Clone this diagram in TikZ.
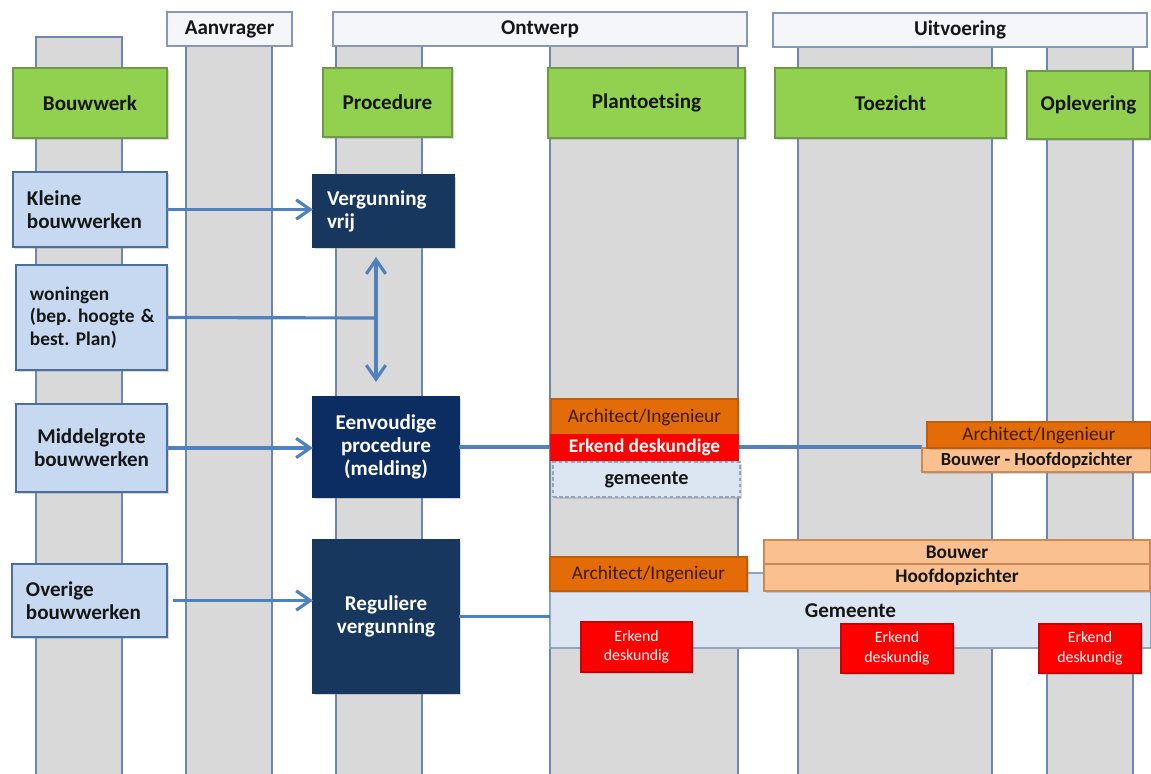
\documentclass[tikz,border=0pt]{standalone}
\usepackage{fontspec}
\setmainfont{Carlito}
\usetikzlibrary{arrows.meta,shadows}
\frenchspacing

\definecolor{lanegray}{HTML}{D9D9D9}
\definecolor{laneline}{HTML}{6F87B0}
\definecolor{headfill}{HTML}{F4F6FA}
\definecolor{headline}{HTML}{8599B6}
\definecolor{phasegreen}{HTML}{92D050}
\definecolor{phaseline}{HTML}{6E9A45}
\definecolor{worklight}{HTML}{C6D9F1}
\definecolor{workline}{HTML}{4A6E9E}
\definecolor{procnavy}{HTML}{17375E}
\definecolor{procdark}{HTML}{0C2D62}
\definecolor{flowblue}{HTML}{4F81BD}
\definecolor{archorange}{HTML}{E36C09}
\definecolor{archtext}{HTML}{3A1A05}
\definecolor{bouwpeach}{HTML}{FAC090}
\definecolor{peachline}{HTML}{C98A5A}
\definecolor{erkendred}{HTML}{FF0000}
\definecolor{gemfill}{HTML}{DCE6F2}
\definecolor{gemline}{HTML}{8FA5C4}
\definecolor{darktext}{HTML}{161616}

\tikzset{
  wh/.style 2 args={minimum width=(#1)*0.02cm, minimum height=(#2)*0.02cm},
  tw/.style 2 args={text width=(#1)*0.02cm, minimum height=(#2)*0.02cm},
}
\tikzstyle{shadowed} = [drop shadow={opacity=0.3, shadow xshift=1.1pt, shadow yshift=-1.1pt}]
\tikzstyle{base} = [anchor=north west, inner sep=0pt, outer sep=0pt, align=center, line width=0.6pt, text=darktext, font=\bfseries\fontsize{12}{13}\selectfont]
\tikzstyle{lane} = [fill=lanegray, draw=laneline, line width=0.6pt]
\tikzstyle{header} = [base, draw=headline, fill=headfill]
\tikzstyle{phase} = [base, draw=phaseline, fill=phasegreen, shadowed]
\tikzstyle{work} = [base, draw=workline, fill=worklight, shadowed]
\tikzstyle{workleft} = [work, align=left, inner xsep=0.28cm]
\tikzstyle{proc} = [base, draw=procnavy, fill=procnavy, text=white, shadowed]
\tikzstyle{procleft} = [proc, align=left, inner xsep=0.28cm]
\tikzstyle{arch} = [base, draw=archorange!85!black, fill=archorange, text=archtext, font=\fontsize{11}{12}\selectfont, shadowed]
\tikzstyle{erkend} = [base, draw=erkendred, fill=erkendred, text=white, font=\bfseries\fontsize{11}{12}\selectfont]
\tikzstyle{erkendsm} = [base, draw=erkendred!80!black, fill=erkendred, text=white, font=\fontsize{9}{11}\selectfont, shadowed]
\tikzstyle{gemdash} = [base, draw=gemline, fill=gemfill, dash pattern=on 2pt off 1.5pt, font=\bfseries\fontsize{11.5}{12}\selectfont, shadowed]
\tikzstyle{gemband} = [base, draw=gemline, fill=gemfill]
\tikzstyle{peach} = [base, draw=peachline, fill=bouwpeach, font=\bfseries\fontsize{11}{12}\selectfont, shadowed]
\tikzstyle{flowline} = [draw=flowblue, line width=1.8pt]
\tikzstyle{flow} = [flowline, ->, >={Straight Barb[length=8pt, width=11pt]}]
\tikzstyle{dflow} = [flow, <->]

\begin{document}
\begin{tikzpicture}[x=0.02cm, y=-0.02cm]
  \useasboundingbox (0,0) rectangle (1151,773);
  \foreach \l/\r/\t in {36/122/37, 186/272/44, 336/422/44, 550/738/44, 798/992/44, 1047/1133/44}
    \draw[lane] (\l,\t) rectangle (\r,780);

  \node[header, wh={125}{34}] (aanvrager) at (167,12) {Aanvrager};
  \node[header, wh={414}{34}] (ontwerp) at (333,12) {Ontwerp};
  \node[header, wh={374}{34}] (uitvoering) at (773,13) {Uitvoering};

  \node[phase, wh={154}{70}] (bouwwerk) at (13,68) {Bouwwerk};
  \node[phase, wh={129}{69}] (procedure) at (323,68) {Procedure};
  \node[phase, wh={197}{70}] (plantoetsing) at (548,68) {Plantoetsing};
  \node[phase, wh={231}{70}] (toezicht) at (775,68) {Toezicht};
  \node[phase, wh={123}{68}] (oplevering) at (1027,71) {Oplevering};

  \node[workleft, tw={154-28}{75}] (kleine) at (13,172) {Kleine\\bouwwerken};
  \node[workleft, font=\bfseries\fontsize{11}{12.8}\selectfont, tw={151-28}{105}] (woningen) at (16,265) {woningen\\\mbox{(bep. hoogte \&}\\\mbox{best. Plan)}};
  \node[work, wh={151}{88}] (middel) at (16,404) {Middelgrote\\bouwwerken};
  \node[workleft, tw={155-28}{73}] (overige) at (12,564) {Overige\\bouwwerken};

  \node[procleft, tw={141-28}{72}] (vrij) at (313,175) {Vergunning\\vrij};
  \node[proc, draw=procdark, fill=procdark, wh={146}{100}] (eenvoudig) at (313,397) {Eenvoudige\\procedure\\(melding)};
  \node[proc, wh={146}{153}] (regulier) at (313,540) {Reguliere\\vergunning};

  \coordinate (split) at (376,318);
  \coordinate (meldingend) at (922,449);
  \draw[flow] (kleine.east) -- (kleine.east -| vrij.west);
  \draw[flowline] (woningen.east) -- (split);
  \draw[dflow, shorten <=0.2cm, shorten >=0.3cm] (vrij.south -| split) -- (eenvoudig.north -| split);
  \draw[flow] (middel.east) -- (middel.east -| eenvoudig.west);
  \draw[flow, shorten <=0.12cm] (overige.east) -- (overige.east -| regulier.west);
  \draw[flowline] (eenvoudig.east) -- (eenvoudig.east -| meldingend);

  \node[arch, wh={187}{36}] (archA) at (551,399) {Architect/Ingenieur};
  \node[erkend, wh={187}{25}] (erkendA) at (551,435) {Erkend deskundige};
  \node[gemdash, wh={187}{35}] (gemA) at (553,462) {gemeente};
  \node[peach, font=\bfseries\fontsize{10.5}{12}\selectfont, wh={229}{24}] (bouwhoofd) at (922,448) {Bouwer - Hoofdopzichter};
  \node[arch, wh={224}{26}] (archB) at (927,422) {Architect/Ingenieur};

  \node[gemband, wh={601}{75}] (gemband) at (550,573) {Gemeente};
  \draw[flowline] (regulier.east) -- (regulier.east -| gemband.west);
  \node[arch, wh={197}{34}] (archC) at (550,557) {Architect/Ingenieur};
  \node[peach, wh={386}{24}] (bouwer) at (764,540) {Bouwer};
  \node[peach, wh={386}{27}] (hoofd) at (764,564) {Hoofdopzichter};
  \node[erkendsm, wh={111}{50}] (erkendB) at (581,622) {Erkend\\deskundig};
  \node[erkendsm, wh={112}{49}] (erkendC) at (841,624) {Erkend\\deskundig};
  \node[erkendsm, wh={102}{49}] (erkendD) at (1039,624) {Erkend\\deskundig};
\end{tikzpicture}
\end{document}
